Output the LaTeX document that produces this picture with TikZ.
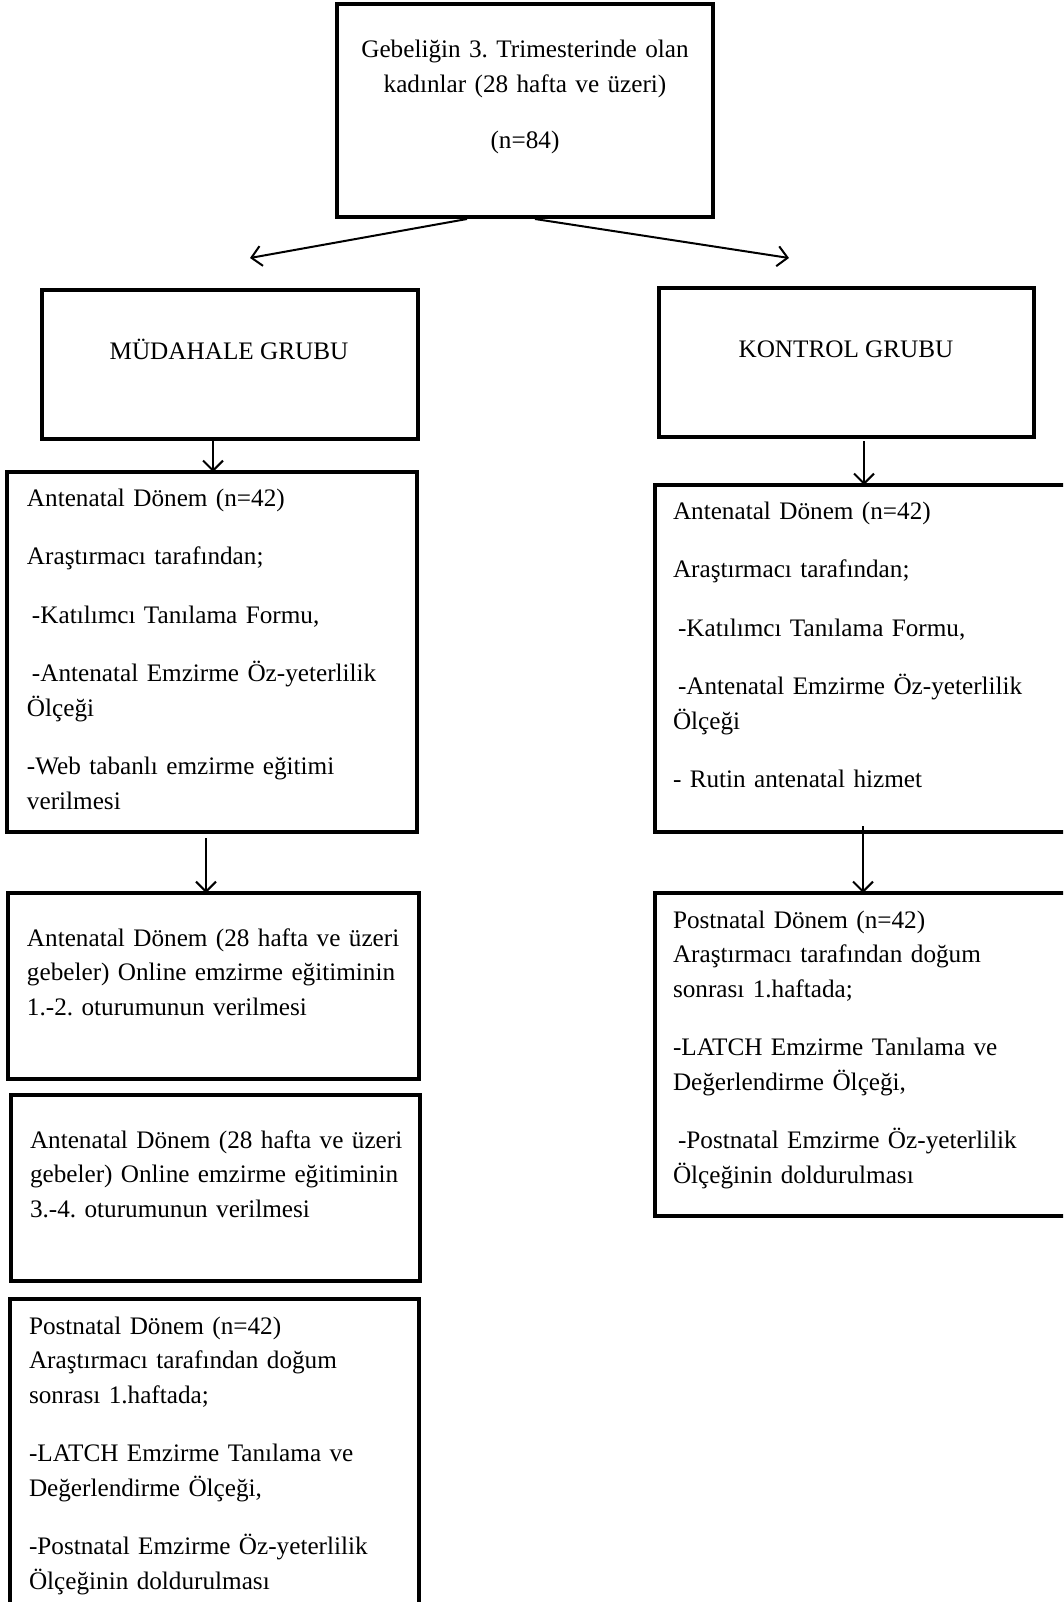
\documentclass[tikz,border=0pt]{standalone}
\usepackage{fontspec}
\setmainfont{Liberation Serif}
\frenchspacing
\usetikzlibrary{arrows.meta,calc}
\tikzset{
  box/.style={draw, line width=3.6pt, inner sep=0pt, outer sep=0pt, rectangle},
  txt/.style={inner sep=0pt, outer sep=0pt, anchor=base west, text width=420pt, align=left,
    font=\fontsize{25.2}{34.5}\selectfont},
  ctxt/.style={inner sep=0pt, outer sep=0pt, anchor=base, align=center,
    font=\fontsize{25.2}{34.5}\selectfont},
  arr/.style={line width=2pt, -{Straight Barb[length=10pt,width=20pt]}}
}
\newcommand{\pgap}{\\[24pt]}
\newcommand{\lsp}{\hspace*{5pt}}
\begin{document}
\begin{tikzpicture}[x=1pt,y=-1pt]
\useasboundingbox (0,0) rectangle (1063,1602);
\clip (0,0) rectangle (1063,1602);
% boxes
\node[box, minimum width=376pt, minimum height=213pt] (top) at (525,110.5) {};
\node[box, minimum width=376pt, minimum height=149pt] (mud) at (230,364.5) {};
\node[box, minimum width=375pt, minimum height=149pt] (kon) at (846.5,362.5) {};
\node[box, minimum width=410pt, minimum height=360pt] (antL) at (212,652) {};
\node[box, minimum width=420pt, minimum height=347pt] (antR) at (865,658.5) {};
\node[box, minimum width=411pt, minimum height=186pt] (ltri) at (213.5,986) {};
\node[box, minimum width=409pt, minimum height=186pt] (lfour) at (215.5,1188) {};
\node[box, minimum width=409pt, minimum height=320pt] (lpost) at (214.5,1459) {};
\node[box, minimum width=420pt, minimum height=323pt] (rpost) at (865,1054.5) {};
% texts
\node[ctxt, text width=376pt] (ttop) at (525,58)
  {Gebeliğin 3. Trimesterinde olan\\kadınlar (28 hafta ve üzeri)\\[22pt](n=84)};
\node[ctxt] (tmud) at (229,359) {MÜDAHALE GRUBU};
\node[ctxt] (tkon) at (846,357) {KONTROL GRUBU};
\node[txt] (tantL) at (27,506)
  {Antenatal Dönem (n=42)\pgap
   Araştırmacı tarafından;\pgap
   \lsp-Katılımcı Tanılama Formu,\pgap
   \lsp-Antenatal Emzirme Öz-yeterlilik\\Ölçeği\pgap
   -Web tabanlı emzirme eğitimi\\verilmesi};
\node[txt] (tantR) at (673,519)
  {Antenatal Dönem (n=42)\pgap
   Araştırmacı tarafından;\pgap
   \lsp-Katılımcı Tanılama Formu,\pgap
   \lsp-Antenatal Emzirme Öz-yeterlilik\\Ölçeği\pgap
   - Rutin antenatal hizmet};
\node[txt] (tltri) at (27,946)
  {Antenatal Dönem (28 hafta ve üzeri\\gebeler) Online emzirme eğitiminin\\1.-2. oturumunun verilmesi};
\node[txt] (tlfour) at (30,1148)
  {Antenatal Dönem (28 hafta ve üzeri\\gebeler) Online emzirme eğitiminin\\3.-4. oturumunun verilmesi};
\node[txt] (tlpost) at (29,1334)
  {Postnatal Dönem (n=42)\\Araştırmacı tarafından doğum\\sonrası 1.haftada;\pgap
   -LATCH Emzirme Tanılama ve\\Değerlendirme Ölçeği,\pgap
   -Postnatal Emzirme Öz-yeterlilik\\Ölçeğinin doldurulması};
\node[txt] (trpost) at (673,928)
  {Postnatal Dönem (n=42)\\Araştırmacı tarafından doğum\\sonrası 1.haftada;\pgap
   -LATCH Emzirme Tanılama ve\\Değerlendirme Ölçeği,\pgap
   \lsp-Postnatal Emzirme Öz-yeterlilik\\Ölçeğinin doldurulması};
% connectors
\coordinate (s1) at ($(top.south)+(-58,2)$);
\coordinate (e1) at (250,258);
\coordinate (s2) at ($(top.south)+(10,2)$);
\coordinate (e2) at (789,258);
\draw[arr] (s1) -- (e1);
\draw[arr] (s2) -- (e2);
\coordinate (s3) at ($(mud.south)+(-17,2)$);
\draw[arr] (s3) -- (s3 |- antL.north);
\coordinate (s4) at ($(kon.south)+(17.5,4)$);
\draw[arr] (s4) -- (s4 |- antR.north);
\coordinate (s5) at ($(antL.south)+(-6,6)$);
\draw[arr] (s5) -- (s5 |- ltri.north);
\coordinate (s6) at ($(antR.south)+(-2,-6)$);
\draw[arr] (s6) -- (s6 |- rpost.north);
\end{tikzpicture}
\end{document}
